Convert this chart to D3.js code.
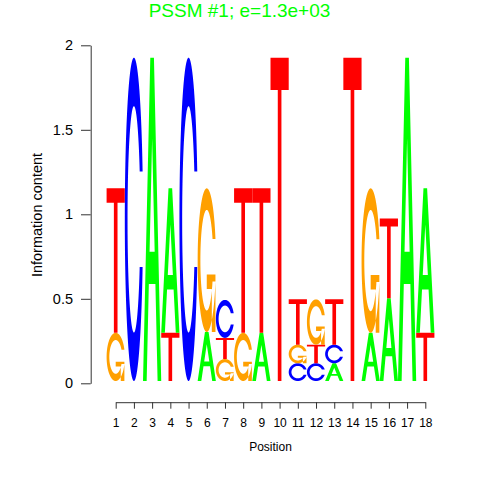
<!DOCTYPE html>
<html>
<head>
<meta charset="utf-8">
<script src="https://cdn.jsdelivr.net/npm/d3@7"></script>
<style>
html,body{margin:0;padding:0;background:#fff;}
svg{display:block;}
text{font-family:"Liberation Sans",Arial,Helvetica,sans-serif;}
</style>
</head>
<body>
<svg id="chart" width="480" height="480"></svg>
<script>
// ---- data ----
const positions = [1,2,3,4,5,6,7,8,9,10,11,12,13,14,15,16,17,18];
// letters per position, listed bottom to top
const stackLetters = [
  ["G","T"], ["C"], ["A"], ["T","A"], ["C"], ["A","G"],
  ["G","T","C"], ["G","T"], ["A","T"], ["T"], ["C","G","T"], ["C","T","G"],
  ["A","C","T"], ["T"], ["A","G"], ["A","T"], ["A"], ["T","A"]
];
const stackHeights = [
  [0.285,0.855], [1.913], [1.913], [0.285,0.855], [1.913], [0.29,0.85],
  [0.13,0.125,0.225], [0.285,0.855], [0.285,0.855], [1.913], [0.105,0.11,0.268], [0.105,0.11,0.268],
  [0.105,0.11,0.268], [1.913], [0.285,0.855], [0.489,0.473], [1.913], [0.285,0.855]
];
const yTicks = [0, 0.5, 1, 1.5, 2];
const yTickLabels = ["0", "0.5", "1", "1.5", "2"];
const baseColors = {A:"#00FF00", C:"#0000FF", G:"#FFA000", T:"#FF0000"};
const titleText = "PSSM #1; e=1.3e+03";
const xLabel = "Position";
const yLabel = "Information content";

// ---- scales ----
const svg = d3.select("#chart");
const x = d3.scaleLinear().domain([1, 18]).range([115.7, 425.3]);
const colW = x(2) - x(1);
const yAxisScale = d3.scaleLinear().domain([0, 2]).range([383.3, 45.3]);
const yLetter = d3.scaleLinear().domain([0, 2]).range([381, 43]);

// ---- letter shapes (unit box, y up) ----
function seq(a, b, n){ const r=[]; for(let i=0;i<n;i++) r.push(a+(b-a)*i/(n-1)); return r; }
function ringShape(){
  const a1 = seq(0.3+Math.PI/2, Math.PI, 100);
  const a2 = seq(Math.PI, 1.5*Math.PI, 100);
  const xl1 = a1.map(a=>0.5+0.5*Math.sin(a)), yl1 = a1.map(a=>0.5+0.5*Math.cos(a));
  const xl2 = a2.map(a=>0.5+0.5*Math.sin(a)), yl2 = a2.map(a=>0.5+0.5*Math.cos(a));
  const xl = xl1.concat(xl2), yl = yl1.concat(yl2);
  let xs = xl.concat(xl.slice().reverse());
  let ys = yl.concat(yl.slice().reverse().map(v=>1-v));
  const maxY = Math.max(...yl1);
  let xi1 = a1.map(a=>0.5+0.35*Math.sin(a)), yi1 = a1.map(a=>0.5+0.35*Math.cos(a));
  const keep = yi1.map(v=>v<=maxY);
  xi1 = xi1.filter((v,i)=>keep[i]); yi1 = yi1.filter((v,i)=>keep[i]);
  yi1[0] = maxY;
  const xi2 = a2.map(a=>0.5+0.35*Math.sin(a)), yi2 = a2.map(a=>0.5+0.35*Math.cos(a));
  const xi = xi1.concat(xi2), yi = yi1.concat(yi2);
  const x1 = xi.concat(xi.slice().reverse());
  const y1 = yi.concat(yi.slice().reverse().map(v=>1-v));
  xs = xs.concat(x1.slice().reverse());
  ys = ys.concat(y1.slice().reverse());
  return {pts: xs.map((v,i)=>[v, ys[i]]), r1: Math.max(...xl1)};
}
const ring = ringShape();
const shapes = {
  T: [[[0,1],[1,1],[1,0.9],[0.6,0.9],[0.6,0],[0.4,0],[0.4,0.9],[0,0.9]]],
  A: [[[0,0],[0.4,1],[0.6,1],[1,0],[0.8,0],[0.68,0.3],[0.32,0.3],[0.2,0]],
      [[0.36,0.4],[0.5,0.75],[0.64,0.4]]],
  C: [ring.pts],
  G: [ring.pts, [[ring.r1,0.4],[0.5,0.4],[0.5,0.3],[ring.r1-0.2,0.3],[ring.r1-0.2,0],[ring.r1,0]]]
};

// build letter records from data
const letterData = [];
positions.forEach((p, i) => {
  let base = 0;
  stackLetters[i].forEach((b, j) => {
    const h = stackHeights[i][j];
    letterData.push({pos: p, base: b, y0: base, h: h});
    base += h;
  });
});

const line = d3.line();
function letterPath(d){
  const x0 = x(d.pos) - colW/2;
  return shapes[d.base].map(poly =>
    line(poly.map(([u,v]) => [x0 + colW*u, yLetter(d.y0 + d.h*v)])) + "Z"
  ).join("");
}

svg.append("g").selectAll("path").data(letterData).enter().append("path")
  .attr("d", letterPath)
  .attr("fill", d => baseColors[d.base])
  .attr("fill-rule", "evenodd");

// ---- axes ----
const yAxis = d3.axisLeft(yAxisScale).tickValues(yTicks)
  .tickFormat((d,i)=>yTickLabels[i]).tickSize(9.7).tickSizeOuter(0).tickPadding(8);
const gy = svg.append("g").attr("transform","translate(90.7,0)").call(yAxis);
gy.select(".domain").attr("stroke","#333");
gy.selectAll(".tick line").attr("stroke","#333");
gy.selectAll(".tick text").attr("font-size","14.5px").attr("fill","#000")
  .attr("font-family","'Liberation Sans',Arial,sans-serif");

const xAxis = d3.axisBottom(x).tickValues(positions).tickFormat(d3.format("d"))
  .tickSize(6.5).tickSizeOuter(0).tickPadding(10);
const gx = svg.append("g").attr("transform","translate(0,402.2)").call(xAxis);
gx.select(".domain").attr("stroke","#333");
gx.selectAll(".tick line").attr("stroke","#333");
gx.selectAll(".tick text").attr("font-size","12px").attr("fill","#000")
  .attr("font-family","'Liberation Sans',Arial,sans-serif");

// ---- labels ----
svg.append("text").attr("x",239.5).attr("y",16.5).attr("text-anchor","middle")
  .attr("font-size","19px").attr("fill","#00FF00").text(titleText);
svg.append("text").attr("x",270.5).attr("y",450.5).attr("text-anchor","middle")
  .attr("font-size","12px").attr("fill","#000").text(xLabel);
svg.append("text").attr("transform","translate(41.5,215) rotate(-90)")
  .attr("text-anchor","middle").attr("font-size","14.5px").attr("fill","#000").text(yLabel);
</script>
</body>
</html>
